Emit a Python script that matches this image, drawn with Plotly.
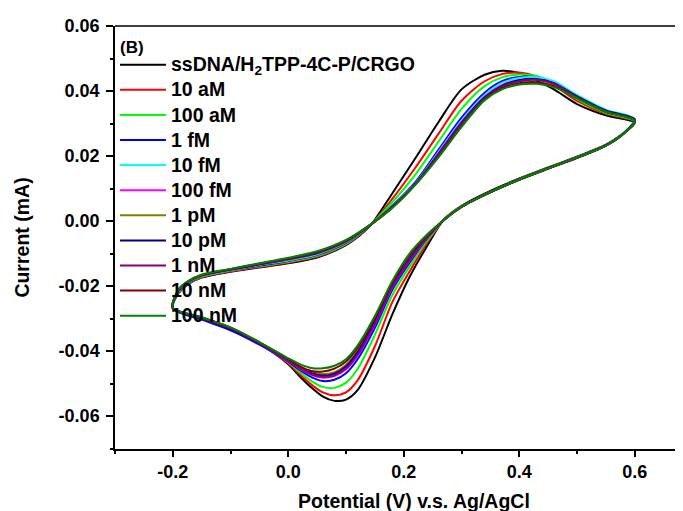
import plotly.graph_objects as go

# Potential axis (V) for the forward (anodic) and reverse (cathodic) sweeps
E_fwd = [-0.2, -0.19, -0.175, -0.15, -0.1, -0.05, 0.0, 0.05, 0.1, 0.14, 0.18, 0.22,
         0.26, 0.30, 0.34, 0.37, 0.40, 0.43, 0.46, 0.50, 0.55, 0.60]
E_rev = [0.58, 0.55, 0.50, 0.45, 0.40, 0.35, 0.30, 0.27, 0.24, 0.21, 0.18, 0.15,
         0.12, 0.10, 0.08, 0.06, 0.04, 0.02, 0.0, -0.05, -0.1, -0.15, -0.2]

labels = ["ssDNA/H<sub>2</sub>TPP-4C-P/CRGO", "10 aM", "100 aM", "1 fM", "10 fM",
          "100 fM", "1 pM", "10 pM", "1 nM", "10 nM", "100 nM"]
colors = ["#000000", "#FF0000", "#00FF00", "#0000FF", "#00FFFF", "#FF00FF",
          "#808000", "#000080", "#800080", "#800000", "#008000"]

x_tickvals = [-0.2, 0.0, 0.2, 0.4, 0.6]
x_ticktext = ["-0.2", "0.0", "0.2", "0.4", "0.6"]
y_tickvals = [-0.06, -0.04, -0.02, 0.0, 0.02, 0.04, 0.06]
y_ticktext = ["-0.06", "-0.04", "-0.02", "0.00", "0.02", "0.04", "0.06"]

# Current (mA), forward sweep
I_fwd_blank = [-0.0268, -0.0222, -0.0196, -0.0174, -0.0156, -0.0143, -0.0130, -0.0112, -0.0074, -0.0018,
               0.0085, 0.0193, 0.0304, 0.0405, 0.0450, 0.0462, 0.0455, 0.0432, 0.0405, 0.0360, 0.0325, 0.0302]
I_fwd_10aM = [-0.0268, -0.0221, -0.0195, -0.0173, -0.0155, -0.0141, -0.0128, -0.0110, -0.0072, -0.0017,
              0.0068, 0.0164, 0.0268, 0.0370, 0.0430, 0.0452, 0.0457, 0.0445, 0.0418, 0.0370, 0.0330, 0.0305]
I_fwd_100aM = [-0.0267, -0.0219, -0.0193, -0.0171, -0.0153, -0.0139, -0.0125, -0.0107, -0.0070, -0.0016,
               0.0058, 0.0143, 0.0244, 0.0345, 0.0415, 0.0442, 0.0451, 0.0446, 0.0424, 0.0375, 0.0333, 0.0307]
I_fwd_1fM = [-0.0269, -0.0218, -0.0192, -0.0170, -0.0152, -0.0137, -0.0123, -0.0104, -0.0067, -0.0016,
             0.0047, 0.0120, 0.0219, 0.0318, 0.0395, 0.0430, 0.0443, 0.0442, 0.0425, 0.0380, 0.0337, 0.0310]
I_fwd_10fM = [-0.0267, -0.0216, -0.0190, -0.0169, -0.0151, -0.0135, -0.0121, -0.0102, -0.0065, -0.0015,
              0.0045, 0.0116, 0.0212, 0.0310, 0.0388, 0.0425, 0.0440, 0.0442, 0.0430, 0.0388, 0.0343, 0.0315]
I_fwd_100fM = [-0.0267, -0.0215, -0.0189, -0.0168, -0.0150, -0.0134, -0.0119, -0.0100, -0.0064, -0.0015,
               0.0044, 0.0114, 0.0208, 0.0304, 0.0382, 0.0418, 0.0434, 0.0437, 0.0424, 0.0382, 0.0338, 0.0310]
I_fwd_1pM = [-0.0267, -0.0214, -0.0189, -0.0168, -0.0150, -0.0133, -0.0118, -0.0099, -0.0063, -0.0015,
             0.0042, 0.0113, 0.0204, 0.0300, 0.0378, 0.0414, 0.0431, 0.0434, 0.0422, 0.0380, 0.0337, 0.0309]
I_fwd_10pM = [-0.0267, -0.0213, -0.0188, -0.0167, -0.0149, -0.0133, -0.0117, -0.0098, -0.0062, -0.0015,
              0.0043, 0.0114, 0.0206, 0.0302, 0.0380, 0.0416, 0.0433, 0.0436, 0.0424, 0.0384, 0.0340, 0.0312]
I_fwd_1nM = [-0.0267, -0.0212, -0.0188, -0.0166, -0.0148, -0.0132, -0.0116, -0.0097, -0.0061, -0.0014,
             0.0042, 0.0113, 0.0204, 0.0299, 0.0377, 0.0413, 0.0430, 0.0435, 0.0423, 0.0381, 0.0337, 0.0309]
I_fwd_10nM = [-0.0266, -0.0211, -0.0187, -0.0166, -0.0148, -0.0131, -0.0115, -0.0095, -0.0060, -0.0014,
              0.0041, 0.0112, 0.0198, 0.0292, 0.0374, 0.0408, 0.0424, 0.0427, 0.0415, 0.0378, 0.0336, 0.0308]
I_fwd_100nM = [-0.0266, -0.0210, -0.0186, -0.0165, -0.0147, -0.0130, -0.0113, -0.0093, -0.0058, -0.0014,
               0.0040, 0.0112, 0.0196, 0.0290, 0.0372, 0.0405, 0.0420, 0.0422, 0.0412, 0.0378, 0.0336, 0.0308]

# Current (mA), reverse sweep
I_rev_blank = [0.0270, 0.0235, 0.0198, 0.0165, 0.0131, 0.0093, 0.0047, 0.0006,
               -0.0078, -0.0172, -0.0288, -0.0420, -0.0520, -0.0549, -0.0553, -0.0540, -0.0512, -0.0478, -0.0440,
               -0.0376, -0.0328, -0.0296, -0.0268]
I_rev_10aM = [0.0269, 0.0233, 0.0196, 0.0163, 0.0129, 0.0090, 0.0045, 0.0005,
              -0.0068, -0.0155, -0.0250, -0.0385, -0.0490, -0.0527, -0.0536, -0.0527, -0.0503, -0.0472, -0.0438,
              -0.0377, -0.0331, -0.0299, -0.0268]
I_rev_100aM = [0.0269, 0.0233, 0.0196, 0.0163, 0.0129, 0.0090, 0.0045, 0.0005,
               -0.0062, -0.0140, -0.0228, -0.0350, -0.0455, -0.0497, -0.0513, -0.0510, -0.0492, -0.0465, -0.0434,
               -0.0378, -0.0333, -0.0300, -0.0267]
I_rev_1fM = [0.0269, 0.0233, 0.0195, 0.0162, 0.0128, 0.0089, 0.0044, 0.0004,
             -0.0055, -0.0128, -0.0212, -0.0328, -0.0425, -0.0468, -0.0488, -0.0492, -0.0480, -0.0458, -0.0432,
             -0.0380, -0.0336, -0.0303, -0.0269]
I_rev_10fM = [0.0270, 0.0233, 0.0196, 0.0162, 0.0128, 0.0089, 0.0044, 0.0004,
              -0.0050, -0.0118, -0.0200, -0.0312, -0.0408, -0.0450, -0.0472, -0.0477, -0.0470, -0.0452, -0.0428,
              -0.0375, -0.0330, -0.0298, -0.0267]
I_rev_100fM = [0.0268, 0.0232, 0.0195, 0.0162, 0.0128, 0.0089, 0.0044, 0.0004,
               -0.0052, -0.0122, -0.0205, -0.0318, -0.0414, -0.0456, -0.0477, -0.0482, -0.0473, -0.0454, -0.0429,
               -0.0376, -0.0331, -0.0299, -0.0267]
I_rev_1pM = [0.0268, 0.0232, 0.0195, 0.0162, 0.0128, 0.0089, 0.0044, 0.0004,
             -0.0048, -0.0114, -0.0196, -0.0306, -0.0400, -0.0442, -0.0465, -0.0470, -0.0464, -0.0448, -0.0426,
             -0.0374, -0.0330, -0.0298, -0.0267]
I_rev_10pM = [0.0269, 0.0233, 0.0195, 0.0162, 0.0128, 0.0089, 0.0044, 0.0004,
              -0.0049, -0.0116, -0.0198, -0.0309, -0.0404, -0.0447, -0.0469, -0.0475, -0.0468, -0.0450, -0.0427,
              -0.0376, -0.0332, -0.0300, -0.0267]
I_rev_1nM = [0.0268, 0.0232, 0.0194, 0.0161, 0.0127, 0.0088, 0.0043, 0.0004,
             -0.0051, -0.0120, -0.0203, -0.0315, -0.0411, -0.0453, -0.0474, -0.0479, -0.0471, -0.0452, -0.0428,
             -0.0375, -0.0330, -0.0298, -0.0267]
I_rev_10nM = [0.0268, 0.0232, 0.0195, 0.0162, 0.0128, 0.0089, 0.0044, 0.0004,
              -0.0045, -0.0105, -0.0190, -0.0298, -0.0390, -0.0432, -0.0454, -0.0463, -0.0461, -0.0447, -0.0425,
              -0.0373, -0.0328, -0.0297, -0.0266]
I_rev_100nM = [0.0268, 0.0232, 0.0195, 0.0162, 0.0128, 0.0089, 0.0044, 0.0004,
               -0.0042, -0.0100, -0.0185, -0.0292, -0.0383, -0.0425, -0.0445, -0.0453, -0.0452, -0.0440, -0.0422,
               -0.0372, -0.0327, -0.0296, -0.0266]

fwd_sets = [I_fwd_blank, I_fwd_10aM, I_fwd_100aM, I_fwd_1fM, I_fwd_10fM, I_fwd_100fM,
            I_fwd_1pM, I_fwd_10pM, I_fwd_1nM, I_fwd_10nM, I_fwd_100nM]
rev_sets = [I_rev_blank, I_rev_10aM, I_rev_100aM, I_rev_1fM, I_rev_10fM, I_rev_100fM,
            I_rev_1pM, I_rev_10pM, I_rev_1nM, I_rev_10nM, I_rev_100nM]

FONT = "Liberation Sans, Arial, sans-serif"

fig = go.Figure()
for lab, col, fw, rv in zip(labels, colors, fwd_sets, rev_sets):
    fig.add_trace(go.Scatter(
        x=E_fwd + E_rev, y=fw + rv, mode="lines",
        name='<span style="font-size:19.5px">' + lab + '</span>',
        line=dict(color=col, width=2, shape="spline", smoothing=0.8),
    ))

fig.update_layout(
    width=683, height=511,
    margin=dict(l=107, r=8, t=16, b=70),
    paper_bgcolor="white", plot_bgcolor="white",
    font=dict(family=FONT, size=18, color="black", weight="bold"),
    showlegend=True,
    legend=dict(
        x=0.0, y=0.950, xanchor="left", yanchor="top",
        bgcolor="rgba(0,0,0,0)", borderwidth=0,
        font=dict(family=FONT, size=17, color="black", weight="bold"),
        itemwidth=46, tracegroupgap=0,
    ),
    xaxis=dict(
        range=[-0.3, 0.6835], showgrid=False, zeroline=False,
        showline=True, linecolor="black", linewidth=1.5,
        ticks="outside", ticklen=6, tickwidth=1.5, tickcolor="black",
        tickvals=x_tickvals, ticktext=x_ticktext,
        tickfont=dict(family=FONT, size=18, weight="bold"),
        minor=dict(dtick=0.1, tick0=0, ticks="outside", ticklen=3, tickwidth=1.5, tickcolor="black"),
    ),
    yaxis=dict(
        range=[-0.0701, 0.06], showgrid=False, zeroline=False,
        showline=True, linecolor="black", linewidth=1.5,
        ticks="outside", ticklen=7, tickwidth=1.5, tickcolor="black",
        tickvals=y_tickvals, ticktext=y_ticktext, ticklabelstandoff=3,
        tickfont=dict(family=FONT, size=18, weight="bold"),
        minor=dict(dtick=0.01, tick0=0, ticks="outside", ticklen=3, tickwidth=1.5, tickcolor="black"),
        title=dict(text="Current (mA)", font=dict(family=FONT, size=19.5, weight="bold"), standoff=24),
    ),
    shapes=[dict(type="line", xref="paper", yref="paper", x0=0, x1=1, y0=1, y1=1,
                 line=dict(color="black", width=1.5))],
    annotations=[
        dict(text="(B)", xref="paper", yref="paper", x=0.005, y=0.95, xanchor="left", yanchor="middle",
             showarrow=False, font=dict(family=FONT, size=17, weight="bold")),
        dict(text="Potential (V) v.s. Ag/AgCl", xref="paper", yref="paper", x=0.526, y=-0.122,
             xanchor="center", yanchor="middle", showarrow=False,
             font=dict(family=FONT, size=19.5, weight="bold")),
    ],
)

fig.write_html("out.html")
